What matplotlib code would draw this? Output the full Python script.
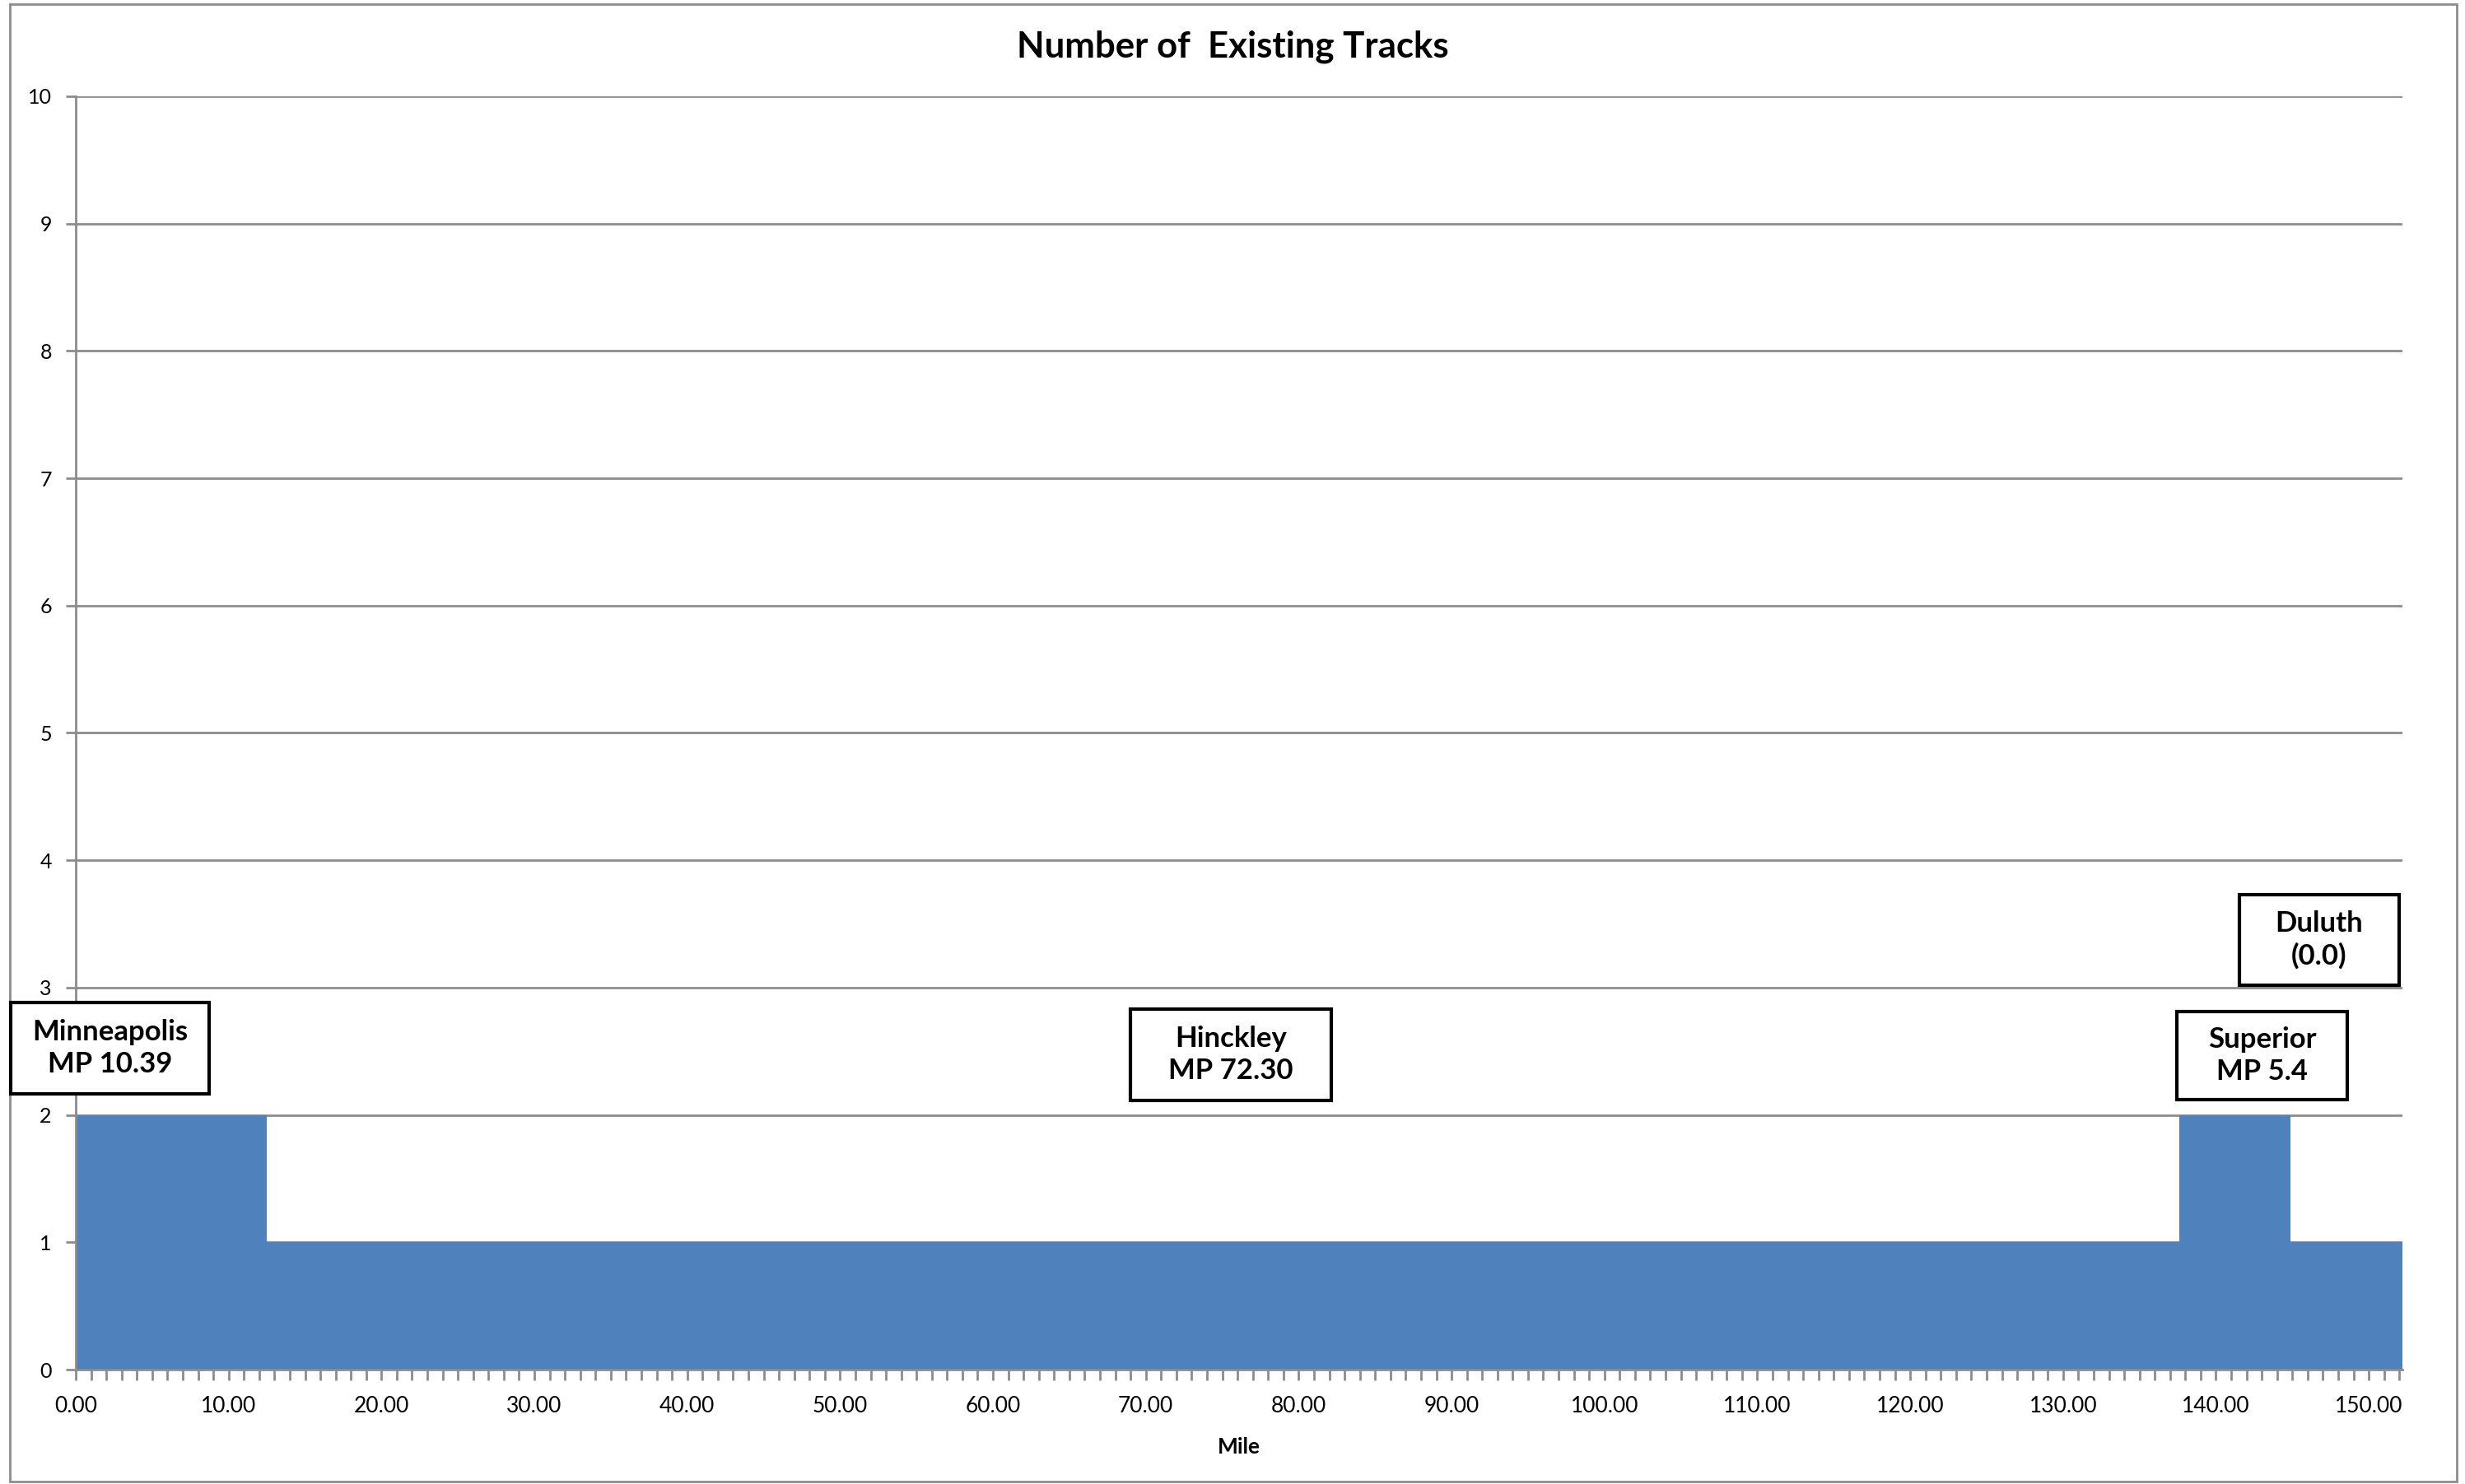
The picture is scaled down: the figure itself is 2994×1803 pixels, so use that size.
import matplotlib
matplotlib.use("Agg")
import matplotlib.pyplot as plt
from matplotlib.patches import Rectangle
from matplotlib.ticker import MultipleLocator, FormatStrFormatter

# step data: segment boundaries (mile) and number of tracks
edges = [0.0, 12.5, 137.6, 144.9, 152.2]
tracks = [2, 1, 2, 1]

# station labels
stations = ["Minneapolis\nMP 10.39", "Hinckley\nMP 72.30", "Superior\nMP 5.4", "Duluth\n(0.0)"]
# boxes in pixels (left, top, right, bottom) of the 2994x1803 image
boxes = [(13, 1218, 254, 1329), (1373, 1226, 1617, 1337),
         (2644, 1229, 2851, 1336), (2720, 1087, 2914, 1197)]

W, H = 2994, 1803
plt.rcParams['font.family'] = ['Lato', 'DejaVu Sans']

fig = plt.figure(figsize=(W / 100, H / 100), dpi=100)
ax = fig.add_axes([92 / W, 1 - 1664 / H, (2918 - 92) / W, (1664 - 117) / H])

xs = []
ys = []
for i in range(len(tracks)):
    xs += [edges[i], edges[i + 1]]
    ys += [tracks[i], tracks[i]]
ax.fill_between(xs, ys, 0, color='#4F81BD', linewidth=0, zorder=2)

ax.set_xlim(0, edges[-1])
ax.set_ylim(0, 10)
ax.xaxis.set_major_locator(MultipleLocator(10))
ax.xaxis.set_minor_locator(MultipleLocator(1))
ax.xaxis.set_major_formatter(FormatStrFormatter('%.2f'))
ax.yaxis.set_major_locator(MultipleLocator(1))

gray = '#8c8c8c'
ax.grid(axis='y', color=gray, linewidth=2, zorder=1)
for s in ['top', 'right']:
    ax.spines[s].set_visible(False)
for s in ['left', 'bottom']:
    ax.spines[s].set_color(gray)
    ax.spines[s].set_linewidth(2)
    ax.spines[s].set_zorder(3)
ax.tick_params(axis='both', which='both', color=gray, width=2, length=9, direction='out')
ax.tick_params(axis='x', which='both', labelsize=19, pad=14)
ax.tick_params(axis='y', labelsize=18, pad=12)

ax.set_xlabel('Mile', fontsize=19, fontweight='bold', labelpad=18)
fig.text(1497 / W, 1 - 57 / H, 'Number of  Existing Tracks', ha='center', va='center',
         fontsize=31.5, fontweight='bold')

# outer chart border
fig.patches.append(Rectangle((12 / W, 1 - 1800 / H), (2984 - 12) / W, (1800 - 5) / H,
                             transform=fig.transFigure, fill=False, edgecolor=gray, linewidth=2))

for label, (l, t, r, b) in zip(stations, boxes):
    fig.patches.append(Rectangle((l / W, 1 - b / H), (r - l) / W, (b - t) / H,
                                 transform=fig.transFigure, facecolor='white',
                                 edgecolor='black', linewidth=3, zorder=5))
    fig.text((l + r) / 2 / W, 1 - (t + b) / 2 / H, label, ha='center', va='center',
             fontsize=25, fontweight='bold', linespacing=1.25, zorder=6)

fig.savefig('out.png', dpi=100)
